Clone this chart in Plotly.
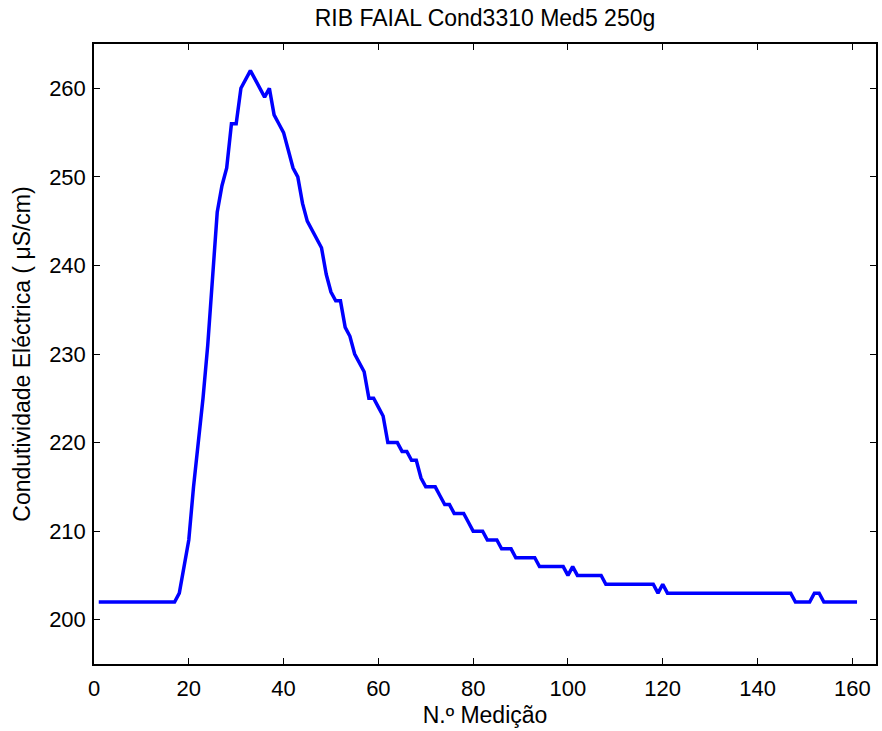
import plotly.graph_objects as go

# Measurement index (N.º Medição)
medicao = list(range(1, 162))

# Electrical conductivity (µS/cm)
condutividade = (
    [202] * 17 +
    [203, 206, 209, 215, 220, 225, 231, 238, 246, 249,
     251, 256, 256, 260, 261, 262, 261, 260, 259, 260,
     257, 256, 255, 253, 251, 250, 247, 245, 244, 243,
     242, 239, 237, 236, 236, 233, 232, 230, 229, 228,
     225, 225, 224, 223, 220, 220, 220, 219, 219, 218,
     218, 216, 215, 215, 215, 214, 213, 213, 212, 212,
     212, 211, 210, 210, 210, 209, 209, 209, 208, 208,
     208] +
    [207] * 5 +          # 89-93
    [206] * 6 +          # 94-99
    [205, 206] +         # 100-101
    [205] * 6 +          # 102-107
    [204] * 11 +         # 108-118
    [203, 204] +         # 119-120
    [203] * 27 +         # 121-147
    [202] * 4 +          # 148-151
    [203] * 2 +          # 152-153
    [202] * 8            # 154-161
)

title_text = "RIB FAIAL Cond3310 Med5 250g"
x_label = "N.º Medição"
y_label = "Condutividade Eléctrica ( μS/cm)"
x_ticks = [0, 20, 40, 60, 80, 100, 120, 140, 160]
y_ticks = [200, 210, 220, 230, 240, 250, 260]

font_family = "Liberation Sans, Arial, sans-serif"
tick_size = 22
text_size = 23

fig = go.Figure()
fig.add_trace(go.Scatter(
    x=medicao, y=condutividade, mode="lines",
    line=dict(color="#0000FF", width=3.5),
    showlegend=False,
))

axis_common = dict(
    showline=True, linecolor="black", linewidth=1.5, mirror="ticks",
    ticks="inside", ticklen=6, tickwidth=1, tickcolor="black",
    showgrid=False, zeroline=False,
    tickfont=dict(family=font_family, size=tick_size, color="black"),
)

fig.update_layout(
    width=882, height=731,
    paper_bgcolor="white", plot_bgcolor="white",
    margin=dict(l=94, r=4, t=44, b=67),
    title=dict(text=title_text, xref="paper", x=0.5, xanchor="center",
               yref="container", y=1 - 18 / 731, yanchor="middle",
               font=dict(family=font_family, size=text_size, color="black")),
    xaxis=dict(range=[0, 165], tickvals=x_ticks, ticklabelstandoff=4,
               title=dict(text=x_label, standoff=7,
                          font=dict(family=font_family, size=text_size, color="black")),
               **axis_common),
    yaxis=dict(range=[195, 265], tickvals=y_ticks, ticklabelstandoff=2,
               title=dict(text=y_label, standoff=12,
                          font=dict(family=font_family, size=text_size, color="black")),
               **axis_common),
)

fig.write_html("out.html")
